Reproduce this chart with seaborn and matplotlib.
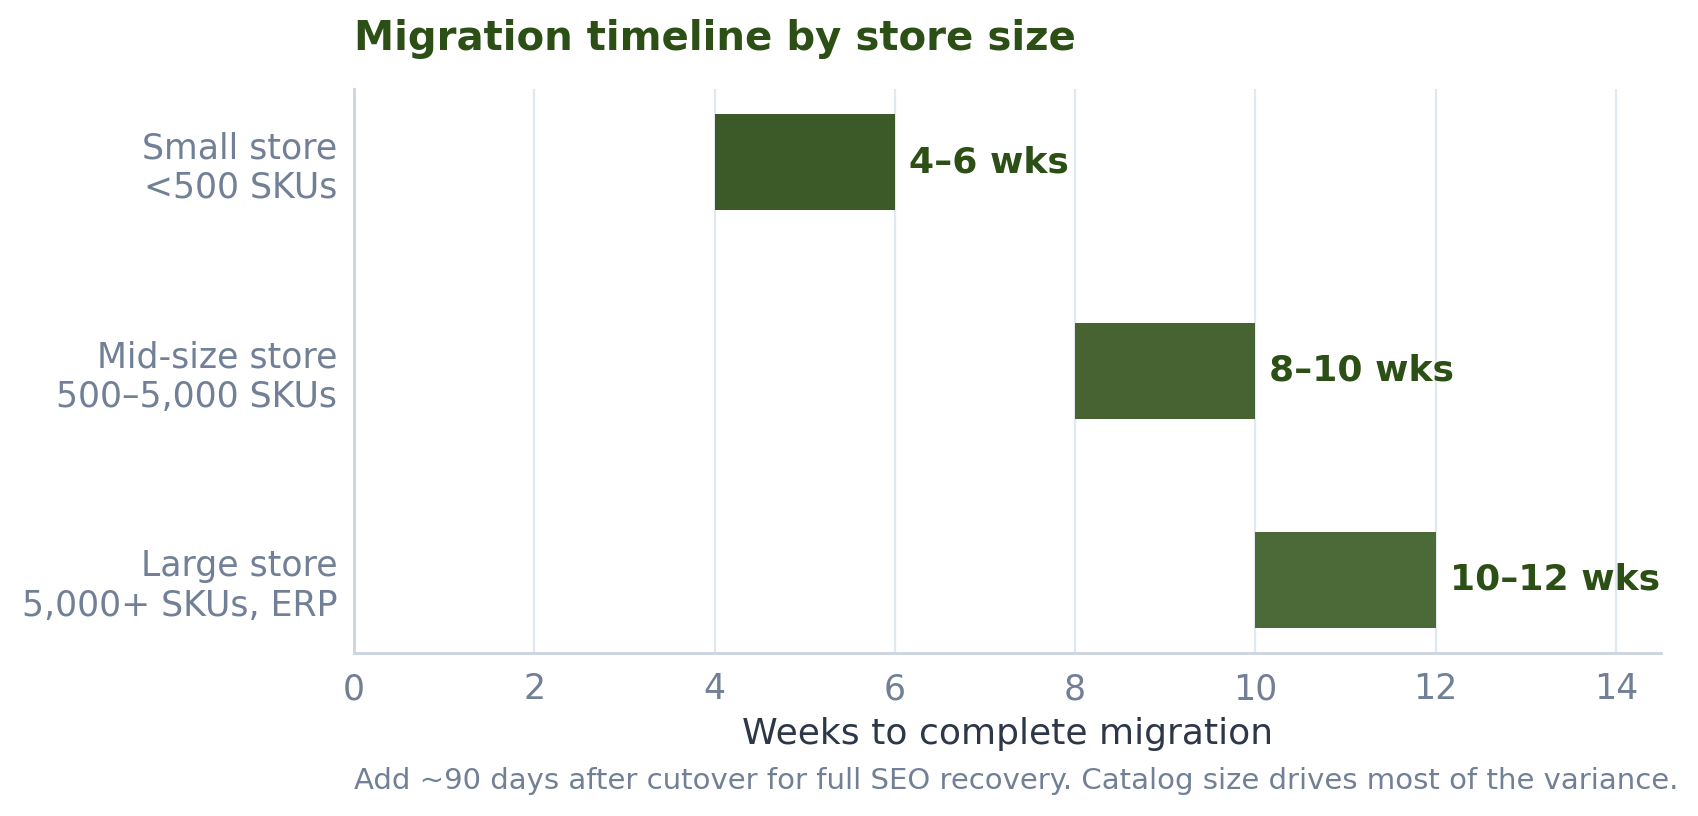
import matplotlib
matplotlib.use('Agg')
import matplotlib.pyplot as plt
import seaborn as sns

stores = ['Small store\n<500 SKUs', 'Mid-size store\n500–5,000 SKUs', 'Large store\n5,000+ SKUs, ERP']
start_weeks = [4, 8, 10]
end_weeks = [6, 10, 12]
range_labels = ['4–6 wks', '8–10 wks', '10–12 wks']
bar_colors = ['#3b5a27', '#466331', '#4c6a38']

sns.set_theme(style='whitegrid')
plt.rcParams['font.family'] = ['DejaVu Sans']

fig, ax = plt.subplots(figsize=(8.495, 4.08), dpi=200)
fig.subplots_adjust(left=0.2084, right=0.9776, top=0.891, bottom=0.2)

widths = [e - s for s, e in zip(start_weeks, end_weeks)]
bars = ax.barh(stores, widths, left=start_weeks, height=0.46, color=bar_colors,
               linewidth=0, zorder=2)

for bar, lab in zip(bars, range_labels):
    ax.annotate(lab, (bar.get_x() + bar.get_width(), bar.get_y() + bar.get_height() / 2),
                xytext=(5, 0), textcoords='offset points', ha='left', va='center',
                fontsize=13, fontweight='bold', color='#2c4f16')

ax.set_xlim(0, 14.5)
ax.set_ylim(2.35, -0.35)
ax.set_xticks(range(0, 15, 2))

ax.grid(axis='x', color='#e2e8f0', linewidth=0.8, zorder=0)
ax.grid(axis='y', visible=False)
for side in ['top', 'right']:
    ax.spines[side].set_visible(False)
for side in ['left', 'bottom']:
    ax.spines[side].set_color('#cbd5e0')
    ax.spines[side].set_linewidth(1.0)

ax.tick_params(axis='both', colors='#718096', labelsize=12.5, length=4, width=0.8, direction='out')
ax.tick_params(axis='x', pad=3)
ax.tick_params(axis='y', pad=2)
ax.set_xlabel('Weeks to complete migration', fontsize=13, color='#2d3748', labelpad=4)
ax.set_title('Migration timeline by store size', loc='left', fontsize=14.5, fontweight='bold',
             color='#2c4f16', pad=14)
fig.text(0.2084, 0.043, 'Add ~90 days after cutover for full SEO recovery. Catalog size drives most of the variance.',
         ha='left', va='center', fontsize=10.5, color='#718096')

fig.savefig('out.png', dpi=200, facecolor='white')
